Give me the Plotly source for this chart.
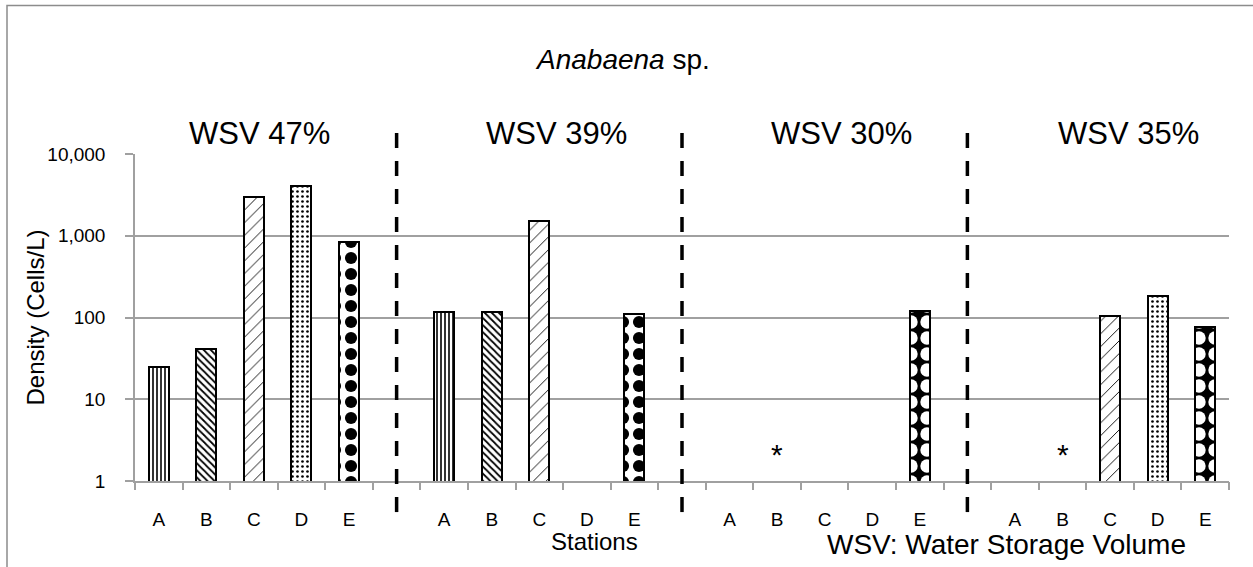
import plotly.graph_objects as go

# ---- data ----
stations = ["A", "B", "C", "D", "E"]
wsv_labels = ["WSV 47%", "WSV 39%", "WSV 30%", "WSV 35%"]
density_wsv47 = [25, 41, 3000, 4100, 850]
density_wsv39 = [116, 116, 1500, None, 111]
density_wsv30 = [None, None, None, None, 120]
density_wsv35 = [None, None, 103, 182, 77]
not_detected = [(2, "B"), (3, "B")]  # (group index, station) marked with *
y_tick_vals = [1, 10, 100, 1000, 10000]
y_tick_text = ["1", "10", "100", "1,000", "10,000"]

groups = [density_wsv47, density_wsv39, density_wsv30, density_wsv35]
SLOT = len(stations) + 1  # one empty slot between groups

FONT = "Liberation Sans, Arial, sans-serif"

pat_shape = {"A": "|", "B": "\\", "C": "/", "D": ".", "E": "."}
pat_size = {"A": 4, "B": 5, "C": 9, "D": 5, "E": 16}
pat_sol = {"A": 0.4, "B": 0.35, "C": 0.1, "D": 0.22, "E": 0.45}

xs, ys, shapes_l, bg_l, fg_l, size_l, sol_l = [], [], [], [], [], [], []
for g, vals in enumerate(groups):
    for i, s in enumerate(stations):
        v = vals[i]
        if v is None:
            continue
        xs.append(g * SLOT + i)
        ys.append(v)
        shapes_l.append(pat_shape[s])
        size_l.append(pat_size[s])
        if s == "E" and g >= 2:
            bg_l.append("black"); fg_l.append("white"); sol_l.append(0.55)
        else:
            bg_l.append("white"); fg_l.append("black"); sol_l.append(pat_sol[s])

fig = go.Figure()
fig.add_trace(go.Bar(
    x=xs, y=ys, width=0.42,
    marker=dict(color="white", line=dict(color="black", width=2),
                pattern=dict(shape=shapes_l, bgcolor=bg_l, fgcolor=fg_l,
                             size=size_l, solidity=sol_l, fillmode="replace")),
    showlegend=False, hoverinfo="x+y",
))
n_slots = SLOT * len(groups) - 1
fig.add_trace(go.Scatter(x=[-0.5, n_slots - 0.5], y=[1, 1], xaxis="x2",
                         mode="markers", marker=dict(opacity=0), showlegend=False,
                         hoverinfo="skip"))

tickvals = [g * SLOT + i for g in range(len(groups)) for i in range(len(stations))]
ticktext = [s for g in range(len(groups)) for s in stations]
boundaries = [k - 0.5 for k in range(n_slots + 1)]

GRID = "#a0a0a0"
fig.update_layout(
    width=1253, height=567,
    margin=dict(l=135, r=24, t=154, b=86),
    paper_bgcolor="white", plot_bgcolor="white",
    font=dict(family=FONT, color="black"),
    bargap=0,
    xaxis=dict(range=[-0.5, n_slots - 0.5], tickvals=tickvals, ticktext=ticktext,
               ticks="outside", ticklen=20, tickcolor="rgba(0,0,0,0)",
               tickfont=dict(size=19, family=FONT), showgrid=False,
               showline=True, linecolor=GRID, linewidth=1.5, zeroline=False),
    xaxis2=dict(range=[-0.5, n_slots - 0.5], overlaying="x", side="bottom",
                tickvals=boundaries, showticklabels=False, ticks="outside",
                ticklen=8, tickcolor=GRID, tickwidth=1.5, showgrid=False,
                showline=False, zeroline=False),
    yaxis=dict(type="log", range=[0, 4], tickvals=y_tick_vals, ticktext=y_tick_text,
               ticks="outside", ticklen=8, tickcolor=GRID, tickwidth=1.5,
               ticklabelstandoff=16,
               tickfont=dict(size=19, family=FONT),
               showgrid=True, gridcolor=GRID, gridwidth=1.5,
               showline=True, linecolor=GRID, linewidth=1.5, zeroline=False),
)

shapes = []
shapes.append(dict(type="rect", xref="paper", yref="paper", x0=-0.117, x1=1.06,
                   y0=-0.4, y1=1.454, line=dict(color="#8c8c8c", width=1.5),
                   fillcolor="rgba(0,0,0,0)", layer="below"))
for g in range(len(groups) - 1):
    xc = g * SLOT + len(stations)
    shapes.append(dict(type="line", xref="x", yref="paper", x0=xc, x1=xc,
                       y0=-0.095, y1=1.064,
                       line=dict(color="black", width=3.5, dash="15px,13px")))
fig.update_layout(shapes=shapes)

ann = []
ann.append(dict(text="<i>Anabaena</i> sp.", xref="paper", yref="paper", x=0.446, y=1.2905,
                showarrow=False, font=dict(size=28, family=FONT), xanchor="center", yanchor="middle"))
wsv_label_x = [2.12, 8.36, 14.35, 20.38]
for lab, lx in zip(wsv_labels, wsv_label_x):
    ann.append(dict(text=lab, xref="x", yref="paper", x=lx, y=1.064, showarrow=False,
                    font=dict(size=31, family=FONT), xanchor="center", yanchor="middle",
                    bgcolor="white"))
ann.append(dict(text="Density (Cells/L)", xref="paper", yref="paper", x=-0.0914, y=0.5,
                textangle=-90, showarrow=False, font=dict(size=24, family=FONT),
                xanchor="center", yanchor="middle"))
ann.append(dict(text="Stations", xref="paper", yref="paper", x=0.4196, y=-0.1865,
                showarrow=False, font=dict(size=24, family=FONT), xanchor="center", yanchor="middle"))
ann.append(dict(text="WSV: Water Storage Volume", xref="paper", yref="paper", x=0.797, y=-0.193,
                showarrow=False, font=dict(size=28, family=FONT), xanchor="center", yanchor="middle"))
for g, s in not_detected:
    ann.append(dict(text="*", xref="x", yref="y", x=g * SLOT + stations.index(s), y=0.33,
                    showarrow=False, font=dict(size=30, family=FONT),
                    xanchor="center", yanchor="middle"))
fig.update_layout(annotations=ann)

fig.write_html("out.html", config={"displayModeBar": False},
               post_script="document.body.style.margin='0';")
